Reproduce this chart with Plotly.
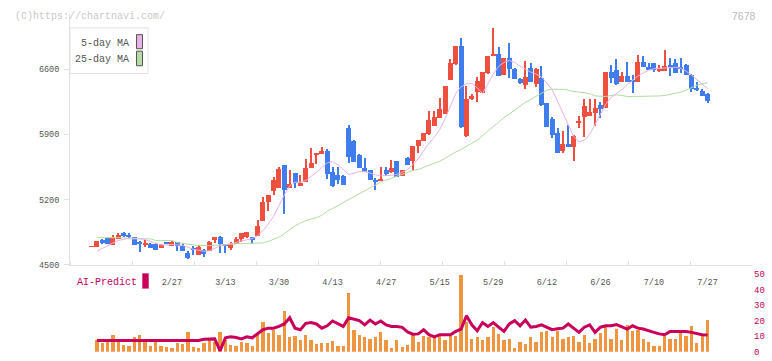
import plotly.graph_objects as go

# ---------------- data ----------------
OPEN = [4695, 4693, 4765, 4788, 4721, 4786, 4840, 4821, 4801, 4751,
        4725, 4723, 4729, 4690, 4745, 4709, 4748, 4703, 4627, 4688,
        4610, 4664, 4650, 4772, 4803, 4730, 4688, 4730, 4786, 4801,
        4803, 4818, 4973, 5176, 5297, 5333, 5576, 5333, 5489, 5360,
        5391, 5548, 5688, 5698, 5726, 5496, 5472, 5461, 5976, 5837,
        5681, 5542, 5517, 5419, 5412, 5524, 5496, 5618, 5461, 5646,
        5621, 5775, 5837, 5904, 5994, 6081, 6123, 6488, 6655, 6854,
        5889, 6283, 6360, 6352, 6558, 6743, 6767, 6541, 6725, 6610,
        6499, 6436, 6621, 6447, 6506, 6238, 6070, 5914, 5726, 5796,
        5768, 6029, 6088, 6098, 6133, 6220, 6186, 6569, 6593, 6471,
        6527, 6473, 6464, 6684, 6631, 6673, 6593, 6586, 6649, 6673,
        6628, 6652, 6545, 6401, 6370, 6332]
HIGH = [4700, 4761, 4786, 4790, 4824, 4846, 4853, 4845, 4805, 4755,
        4774, 4735, 4740, 4727, 4750, 4755, 4752, 4723, 4653, 4706,
        4716, 4668, 4755, 4800, 4813, 4732, 4751, 4803, 4845, 4855,
        4805, 4984, 5231, 5252, 5447, 5553, 5580, 5524, 5492, 5472,
        5636, 5757, 5707, 5767, 5743, 5558, 5558, 5463, 6004, 5840,
        5698, 5652, 5519, 5437, 5558, 5558, 5628, 5620, 5526, 5660,
        5777, 5847, 5916, 6155, 6151, 6290, 6424, 6708, 6856, 6934,
        6422, 6340, 6516, 6571, 6745, 7049, 6840, 6727, 6882, 6612,
        6510, 6691, 6673, 6612, 6638, 6240, 6088, 5970, 5942, 6004,
        5892, 6098, 6283, 6283, 6283, 6255, 6571, 6649, 6708, 6569,
        6684, 6545, 6753, 6743, 6673, 6675, 6649, 6812, 6718, 6708,
        6725, 6654, 6547, 6464, 6388, 6349]
LOW = [4695, 4691, 4730, 4723, 4719, 4786, 4800, 4796, 4721, 4637,
       4690, 4688, 4658, 4680, 4725, 4705, 4657, 4650, 4570, 4606,
       4608, 4584, 4648, 4740, 4630, 4632, 4660, 4728, 4751, 4790,
       4723, 4815, 4970, 5082, 5255, 5330, 5054, 5330, 5333, 5358,
       5389, 5546, 5583, 5696, 5430, 5336, 5367, 5355, 5594, 5609,
       5540, 5498, 5410, 5307, 5410, 5454, 5494, 5442, 5459, 5574,
       5517, 5705, 5835, 5900, 5992, 6079, 6121, 6486, 6653, 5970,
       5879, 6270, 6255, 6350, 6556, 6741, 6525, 6539, 6506, 6497,
       6440, 6394, 6462, 6412, 6203, 5982, 5861, 5703, 5705, 5766,
       5621, 5976, 5879, 6096, 5994, 6074, 6184, 6457, 6438, 6469,
       6469, 6349, 6462, 6626, 6591, 6569, 6569, 6584, 6534, 6560,
       6562, 6539, 6360, 6367, 6316, 6245]
CLOSE = [4700, 4760, 4747, 4725, 4794, 4824, 4811, 4798, 4721, 4728,
         4742, 4689, 4658, 4711, 4729, 4750, 4703, 4650, 4575, 4660,
         4698, 4618, 4751, 4800, 4730, 4712, 4730, 4782, 4845, 4855,
         4766, 4916, 5182, 5252, 5419, 5531, 5308, 5367, 5378, 5378,
         5545, 5600, 5705, 5726, 5482, 5349, 5409, 5357, 5663, 5611,
         5542, 5500, 5412, 5391, 5430, 5482, 5542, 5444, 5524, 5576,
         5775, 5845, 5914, 6059, 6090, 6175, 6422, 6673, 6854, 5984,
         6283, 6318, 6475, 6569, 6743, 6767, 6527, 6725, 6603, 6499,
         6454, 6516, 6464, 6610, 6221, 5984, 5900, 5705, 5796, 5768,
         5890, 6046, 6213, 6144, 6186, 6179, 6569, 6506, 6440, 6527,
         6471, 6469, 6684, 6628, 6593, 6593, 6603, 6638, 6631, 6562,
         6610, 6541, 6394, 6384, 6318, 6266]
MA5 = [None, 4646, 4678, 4709, 4735, 4761, 4777, 4787, 4787, 4782,
       4772, 4751, 4730, 4714, 4714, 4719, 4714, 4709, 4688, 4667,
       4657, 4646, 4651, 4678, 4704, 4714, 4725, 4740, 4756, 4772,
       4782, 4813, 4866, 4939, 5022, 5137, 5252, 5346, 5388, 5388,
       5404, 5451, 5492, 5545, 5597, 5607, 5576, 5524, 5472, 5482,
       5503, 5503, 5482, 5466, 5456, 5456, 5461, 5472, 5492, 5524,
       5576, 5639, 5722, 5806, 5869, 5952, 6067, 6213, 6339, 6412,
       6443, 6448, 6401, 6339, 6443, 6548, 6631, 6673, 6694, 6673,
       6631, 6600, 6569, 6548, 6516, 6454, 6381, 6255, 6130, 5994,
       5879, 5822, 5837, 5900, 6004, 6109, 6224, 6297, 6339, 6381,
       6433, 6485, 6527, 6558, 6590, 6605, 6610, 6610, 6616, 6621,
       6610, 6579, 6537, 6485, 6433, 6391]
MA25 = [None, 4792, 4792, 4792, 4792, 4792, 4792, 4779, 4779, 4779,
        4779, 4779, 4761, 4761, 4761, 4761, 4740, 4730, 4719, 4714,
        4709, 4706, 4706, 4709, 4714, 4719, 4725, 4730, 4730, 4730,
        4730, 4730, 4735, 4751, 4772, 4798, 4834, 4876, 4918, 4949,
        4975, 4991, 5007, 5033, 5075, 5106, 5132, 5169, 5200, 5231,
        5263, 5289, 5325, 5357, 5388, 5409, 5430, 5451, 5472, 5487,
        5513, 5524, 5545, 5571, 5592, 5613, 5644, 5681, 5712, 5738,
        5775, 5806, 5837, 5890, 5937, 5984, 6036, 6081, 6119, 6161,
        6203, 6245, 6276, 6307, 6344, 6375, 6386, 6386, 6384, 6375,
        6360, 6354, 6344, 6339, 6313, 6307, 6307, 6318, 6325, 6318,
        6307, 6307, 6307, 6307, 6307, 6307, 6313, 6318, 6328, 6339,
        6354, 6375, 6401, 6428, 6443, 6454]
VOLUME = [None, 7.3, 5.4, 7.3, 11, 8.5, 4.2, 3.5, 9.2, 11,
          6, 3.5, 6.7, 3.5, 2.9, 2.3, 5.4, 4.8, 12.9, 2.9,
          2.3, 5.4, 7.3, 6, 12.9, 7.3, 4.2, 3.5, 6, 5.4,
          3.5, 11, 19.2, 12.3, 14.2, 11, 26, 9.2, 10.4, 7.3,
          11, 7.3, 4.8, 5.4, 5.4, 6.7, 3.5, 3.5, 37.5, 14.2,
          11, 9.2, 7.9, 9.8, 12.9, 7.3, 2.3, 7.3, 2.9, 4.2,
          11, 6.5, 10.4, 9.2, 9, 10.4, 7.3, 10.4, 10.4, 49.2,
          19.2, 8.5, 9.2, 7.3, 9.2, 16, 11.7, 7.3, 7.9, 2.3,
          6, 4.8, 9.8, 6, 12.9, 13.5, 9.2, 13.5, 8.5, 9.2,
          10.4, 6, 11, 5.4, 8.5, 12.3, 16, 8.5, 14.8, 7.3,
          17.3, 13.5, 14.2, 8.5, 6, 3.5, 3.5, 10.4, 8.5, 7.9,
          12.3, 10.4, 16.7, 5.4, 10.4, 20.4]
AI_PREDICT = [None, 7.3, 7.3, 7.3, 7.3, 7.3, 7.3, 7.3, 7.3, 7.3,
              7.3, 7.3, 7.3, 7.3, 7.3, 7.3, 7.3, 7.3, 7.3, 7.3,
              7.3, 8.1, 8.1, 8.3, 0.6, 9, 9.6, 9.2, 8.3, 9.6,
              9, 11.7, 14.2, 15.2, 15.2, 16.3, 17.9, 21.9, 15.2, 14.2,
              18.3, 18.8, 17.9, 15.2, 16.7, 19.8, 17.9, 16.3, 21.9, 20.8,
              20, 17.3, 20.4, 17.9, 19.8, 17.3, 16.3, 16.3, 15.7, 12.8,
              11.3, 11.5, 14.2, 11, 9.6, 11, 11, 11, 13.1, 14.6,
              23.1, 17.3, 13.5, 18.8, 16.3, 18.8, 15.8, 13.1, 17.9, 20,
              16.7, 20.4, 15.8, 16.3, 17.3, 15.8, 14.2, 14.8, 15.2, 17.9,
              15.2, 12.5, 15.8, 17.3, 12.5, 15.8, 16.7, 16.7, 17.5, 15.8,
              14.6, 16.7, 15.2, 14.6, 13.8, 12.5, 11.5, 11, 13.1, 13.1,
              13.1, 13.1, 12.5, 11.5, 11, 10.8]
DATE_LABELS = ["2/27", "3/13", "3/30", "4/13", "4/27", "5/15",
               "5/29", "6/12", "6/26", "7/10", "7/27"]
DATE_LABEL_BARS = [15, 25, 35, 45, 55, 65, 75, 85, 95, 105, 115]
PRICE_TICKS = [4500, 5200, 5900, 6600]
AI_TICKS = [0, 10, 20, 30, 40, 50]

# ---------------- styling ----------------
W, H = 772, 361
UP, DOWN = "#EF4F3F", "#3F7DEF"
MA5_COLOR, MA25_COLOR = "#E7B2E7", "#B3DBA3"
VOL_COLOR, AI_COLOR = "#F0953F", "#C8005A"
AXIS_COLOR, TEXT_COLOR = "#E2E2E2", "#555555"
MONO = "Liberation Mono, DejaVu Sans Mono, monospace"

def px_x(p):
    return p / W

def px_y(p):
    return 1 - p / H

n = len(CLOSE)
xs = list(range(n))
cols = [UP if c >= o else DOWN for o, c in zip(OPEN, CLOSE)]
body_base = [min(o, c) for o, c in zip(OPEN, CLOSE)]
body_len = [max(abs(c - o), 10) for o, c in zip(OPEN, CLOSE)]
wick_len = [h - l for h, l in zip(HIGH, LOW)]

fig = go.Figure()
fig.add_trace(go.Scatter(x=xs, y=MA25, mode="lines", line=dict(color=MA25_COLOR, width=1),
                         xaxis="x", yaxis="y", hoverinfo="skip"))
fig.add_trace(go.Scatter(x=xs, y=MA5, mode="lines", line=dict(color=MA5_COLOR, width=1),
                         xaxis="x", yaxis="y", hoverinfo="skip"))
fig.add_trace(go.Bar(x=xs, y=wick_len, base=LOW, width=0.19, marker=dict(color=cols, line=dict(width=0)),
                     xaxis="x", yaxis="y"))
fig.add_trace(go.Bar(x=xs, y=body_len, base=body_base, width=0.93, marker=dict(color=cols, line=dict(width=0)),
                     xaxis="x", yaxis="y"))
fig.add_trace(go.Bar(x=xs, y=VOLUME, width=0.62, marker=dict(color=VOL_COLOR, line=dict(width=0)),
                     xaxis="x2", yaxis="y2"))
fig.add_trace(go.Scatter(x=xs, y=AI_PREDICT, mode="lines", line=dict(color=AI_COLOR, width=3),
                         xaxis="x2", yaxis="y2", hoverinfo="skip"))

# x scale: pixel 70 -> -4.01, pixel 752 -> 123.3
XR = [-4.01, 123.3]
step = (XR[1] - XR[0]) / 11
minor_vals = [XR[0] + 0.05 + k * step for k in range(12)]

fig.update_layout(
    width=W, height=H, margin=dict(l=0, r=0, t=0, b=0),
    paper_bgcolor="white", plot_bgcolor="white",
    showlegend=False, barmode="overlay", bargap=0,
    xaxis=dict(domain=[px_x(70), px_x(752)], range=XR, anchor="y",
               showline=True, linecolor=AXIS_COLOR, linewidth=1,
               showgrid=False, zeroline=False,
               tickmode="array", tickvals=DATE_LABEL_BARS, ticktext=DATE_LABELS,
               ticks="", ticklabelstandoff=9,
               tickfont=dict(family=MONO, size=8.5, color=TEXT_COLOR),
               minor=dict(tickmode="array", tickvals=minor_vals, ticks="inside",
                          ticklen=4, tickwidth=1, tickcolor=AXIS_COLOR, showgrid=False)),
    yaxis=dict(domain=[px_y(268.3), px_y(10)], range=[4500, 7195.5], anchor="x",
               showline=True, linecolor=AXIS_COLOR, linewidth=1,
               showgrid=False, zeroline=False,
               tickmode="array", tickvals=PRICE_TICKS, ticks="outside", ticklen=5,
               tickcolor=AXIS_COLOR, tickwidth=1, ticklabelstandoff=3,
               tickfont=dict(family=MONO, size=8.5, color=TEXT_COLOR)),
    xaxis2=dict(domain=[px_x(70), px_x(752)], range=XR, anchor="y2", matches="x",
                visible=False),
    yaxis2=dict(domain=[px_y(357.7), px_y(277.7)], range=[0, 50], anchor="x2", side="right",
                showline=False, showgrid=False, zeroline=False,
                tickmode="array", tickvals=AI_TICKS, ticks="", ticklabelstandoff=1,
                tickfont=dict(family=MONO, size=9, color=AI_COLOR)),
)

shapes = [
    dict(type="rect", xref="paper", yref="paper", x0=px_x(70), x1=px_x(148), y0=px_y(71.5), y1=px_y(24.5),
         fillcolor="white", line=dict(color=AXIS_COLOR, width=1), layer="above"),
    dict(type="rect", xref="paper", yref="paper", x0=px_x(136.5), x1=px_x(142.5), y0=px_y(46), y1=px_y(31.5),
         fillcolor=MA5_COLOR, line=dict(color="#555555", width=1), layer="above"),
    dict(type="rect", xref="paper", yref="paper", x0=px_x(136.5), x1=px_x(142.5), y0=px_y(63.5), y1=px_y(48.5),
         fillcolor=MA25_COLOR, line=dict(color="#555555", width=1), layer="above"),
    dict(type="rect", xref="paper", yref="paper", x0=px_x(142.3), x1=px_x(148.7), y0=px_y(292.7), y1=px_y(277),
         fillcolor=AI_COLOR, line=dict(width=0), layer="above"),
]
fig.update_layout(shapes=shapes)

ann = [
    dict(text="(C)https://chartnavi.com/", x=px_x(13), y=px_y(12.5), xanchor="left", yanchor="middle",
         font=dict(family=MONO, size=10, color="#C8C8C8")),
    dict(text="7678", x=px_x(758), y=px_y(12), xanchor="right", yanchor="middle",
         font=dict(family="Liberation Sans, Arial, sans-serif", size=10.5, color="#BBBBBB")),
    dict(text="5-day MA", x=px_x(131), y=px_y(41), xanchor="right", yanchor="middle",
         font=dict(family=MONO, size=10, color=TEXT_COLOR)),
    dict(text="25-day MA", x=px_x(131), y=px_y(57.5), xanchor="right", yanchor="middle",
         font=dict(family=MONO, size=10, color=TEXT_COLOR)),
    dict(text="AI-Predict", x=px_x(75), y=px_y(286), xanchor="left", yanchor="middle",
         font=dict(family=MONO, size=10, color=AI_COLOR)),
]
for a in ann:
    a.update(xref="paper", yref="paper", showarrow=False)
fig.update_layout(annotations=ann)

fig.write_html("out.html")
